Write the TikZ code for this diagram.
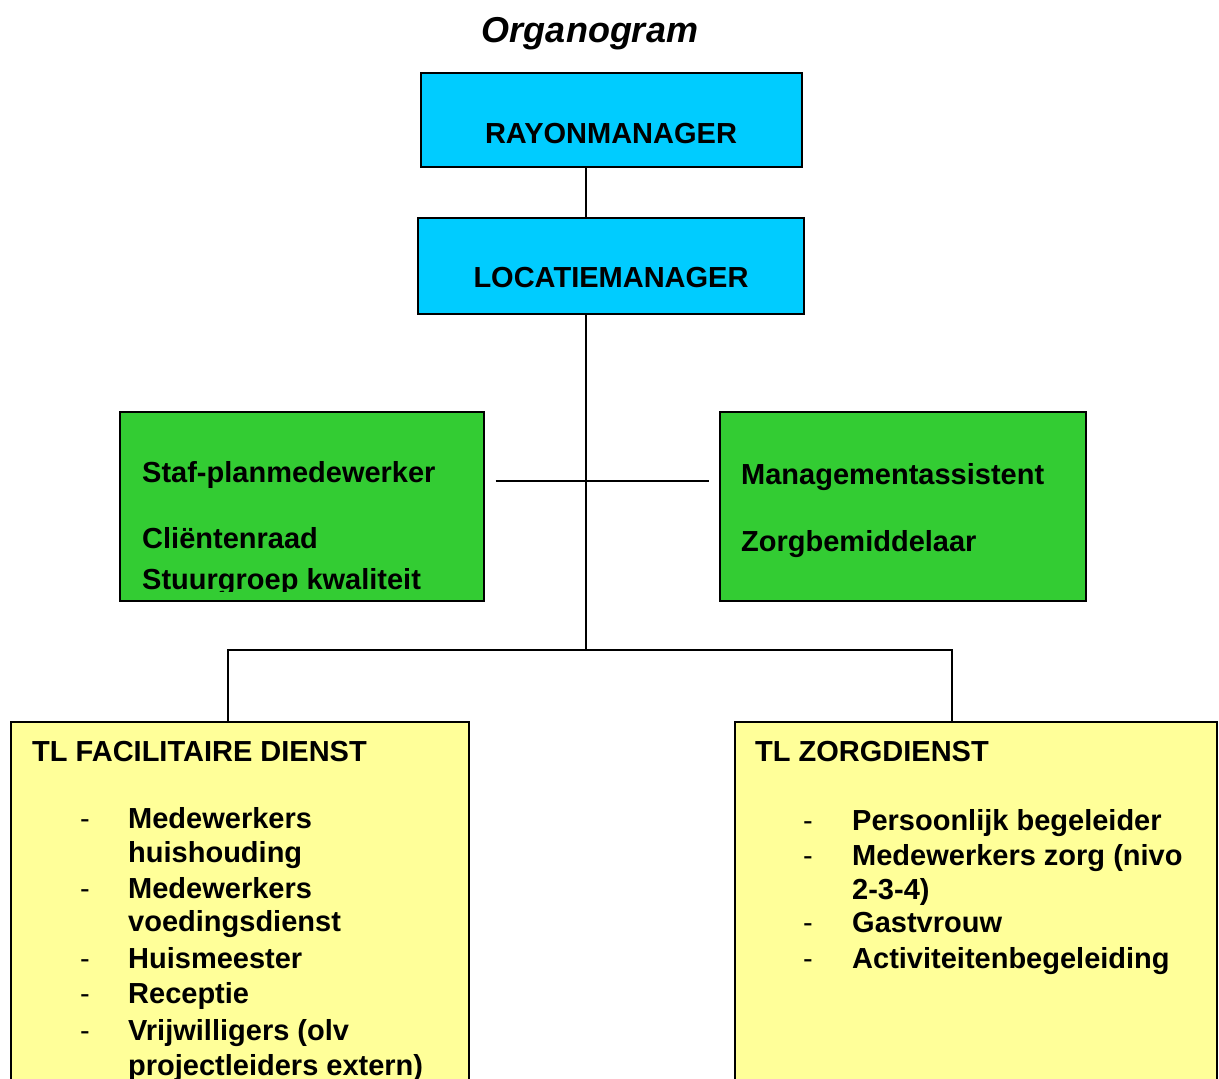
\documentclass[tikz,border=0pt]{standalone}
\usepackage{fontspec}
\setmainfont{Liberation Sans}

\definecolor{boxcyan}{HTML}{00CCFF}
\definecolor{boxgreen}{HTML}{33CC33}
\definecolor{boxyellow}{HTML}{FFFF99}

\tikzset{
  box/.style={draw, line width=2pt, inner sep=0pt},
  topbox/.style={box, fill=boxcyan},
  staffbox/.style={box, fill=boxgreen, minimum width=364pt, minimum height=189pt},
  teambox/.style={box, fill=boxyellow, minimum height=400pt},
  txt/.style={anchor=base west, inner sep=0pt, font=\fontsize{29}{35}\selectfont\bfseries},
  ctxt/.style={txt, anchor=base},
  itemdash/.style={anchor=base west, inner sep=0pt, font=\fontsize{29}{35}\selectfont},
  link/.style={line width=2pt}
}

\begin{document}
\begin{tikzpicture}[x=1pt,y=-1pt]
\useasboundingbox (0,0) rectangle (1219,1079);
\clip (0,0) rectangle (1219,1079);

% title
\node[anchor=base, inner sep=0pt, font=\fontsize{36}{42}\selectfont\bfseries\itshape]
  (title) at (590,42) {Organogram};

% management
\node[topbox, minimum width=381pt, minimum height=94pt] (rayon) at (611.5,120) {};
\node[ctxt] (rayontxt) at (611,143) {RAYONMANAGER};
\node[topbox, minimum width=386pt, minimum height=96pt] (locatie) at (611,266) {};
\node[ctxt] (locatietxt) at (611,287) {LOCATIEMANAGER};

% staff boxes
\node[staffbox] (staf) at (301.5,506.5) {};
\node[staffbox, minimum width=366pt] (assist) at (903,506.5) {};
\node[txt] (staf1) at (142,482) {Staf-planmedewerker};
\node[txt] (staf2) at (142,548) {Cliëntenraad};
\begin{scope}
\clip (120,560) rectangle (483,591);
\node[txt] (staf3) at (142,589) {Stuurgroep kwaliteit};
\end{scope}
\node[txt] (assist1) at (741,484) {Managementassistent};
\node[txt] (assist2) at (741,551) {Zorgbemiddelaar};

% team leaders
\node[teambox, minimum width=458pt] (fac) at (240,922) {};
\node[teambox, minimum width=482pt] (zorg) at (976,922) {};
\node[txt] (factitle) at (32,761) {TL FACILITAIRE DIENST};
\node[txt] (zorgtitle) at (755,761) {TL ZORGDIENST};

% items facilitaire dienst
\foreach \yb/\item [count=\i] in {828/Medewerkers, 862/huishouding, 898/Medewerkers,
    931/voedingsdienst, 968/Huismeester, 1003/Receptie, 1040/Vrijwilligers (olv,
    1075/projectleiders extern)}
  \node[txt] (facitem\i) at (128,\yb) {\item};
\foreach \yb [count=\i] in {828, 898, 968, 1003, 1040}
  \node[itemdash] (facdash\i) at (80,\yb) {-};

% items zorgdienst
\foreach \yb/\item [count=\i] in {830/Persoonlijk begeleider, 865/Medewerkers zorg (nivo,
    899/2-3-4), 932/Gastvrouw, 968/Activiteitenbegeleiding}
  \node[txt] (zorgitem\i) at (852,\yb) {\item};
\foreach \yb [count=\i] in {830, 865, 932, 968}
  \node[itemdash] (zorgdash\i) at (803,\yb) {-};

% connectors
\coordinate (trunk) at (586,650);
\coordinate (staflink) at (586,481);
\coordinate (branchL) at (228,650);
\coordinate (branchR) at (952,650);
\draw[link] (rayon.south -| trunk) -- (locatie.north -| trunk);
\draw[link] (locatie.south -| trunk) -- (trunk);
\draw[link] ([xshift=11pt]staf.east |- staflink) -- ([xshift=-10pt]assist.west |- staflink);
\draw[link] (fac.north -| branchL) -- (branchL) -- (branchR) -- (zorg.north -| branchR);
\end{tikzpicture}
\end{document}
